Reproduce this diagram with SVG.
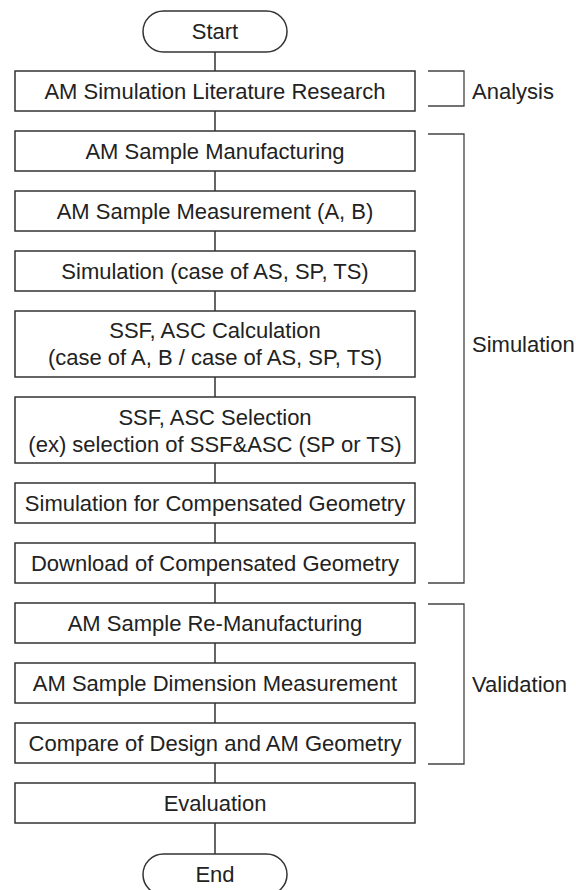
<svg xmlns="http://www.w3.org/2000/svg" width="576" height="890" viewBox="0 0 576 890">
<style>
.box{fill:#fff;stroke:#333;stroke-width:1.5}
.t{font-family:"Liberation Sans",Arial,sans-serif;font-size:22px;fill:#222;text-anchor:middle}
.l{font-family:"Liberation Sans",Arial,sans-serif;font-size:22px;fill:#222}
.c{stroke:#333;stroke-width:1.5;fill:none}
.br{stroke:#444;stroke-width:1.3;fill:none}
</style>
<rect width="576" height="890" fill="#fff"/>
<g id="connectors">
<line class="c" x1="215" y1="52" x2="215" y2="71"/>
<line class="c" x1="215" y1="111" x2="215" y2="131"/>
<line class="c" x1="215" y1="171" x2="215" y2="191"/>
<line class="c" x1="215" y1="231" x2="215" y2="251"/>
<line class="c" x1="215" y1="291" x2="215" y2="311"/>
<line class="c" x1="215" y1="377" x2="215" y2="397"/>
<line class="c" x1="215" y1="463" x2="215" y2="483"/>
<line class="c" x1="215" y1="523" x2="215" y2="543"/>
<line class="c" x1="215" y1="583" x2="215" y2="603"/>
<line class="c" x1="215" y1="643" x2="215" y2="663"/>
<line class="c" x1="215" y1="703" x2="215" y2="723"/>
<line class="c" x1="215" y1="763" x2="215" y2="783"/>
<line class="c" x1="215" y1="823" x2="215" y2="854"/>
</g>
<g id="start"><rect class="box" x="143" y="11" width="144" height="41" rx="20.5"/><text class="t" x="215" y="39">Start</text></g>
<g id="n1"><rect class="box" x="15" y="71" width="400" height="40"/><text class="t" x="215" y="99">AM Simulation Literature Research</text></g>
<g id="n2"><rect class="box" x="15" y="131" width="400" height="40"/><text class="t" x="215" y="159">AM Sample Manufacturing</text></g>
<g id="n3"><rect class="box" x="15" y="191" width="400" height="40"/><text class="t" x="215" y="219">AM Sample Measurement (A, B)</text></g>
<g id="n4"><rect class="box" x="15" y="251" width="400" height="40"/><text class="t" x="215" y="279">Simulation (case of AS, SP, TS)</text></g>
<g id="n5"><rect class="box" x="15" y="311" width="400" height="66"/><text class="t" x="215" y="338">SSF, ASC Calculation</text><text class="t" x="215" y="365">(case of A, B / case of AS, SP, TS)</text></g>
<g id="n6"><rect class="box" x="15" y="397" width="400" height="66"/><text class="t" x="215" y="425">SSF, ASC Selection</text><text class="t" x="215" y="452">(ex) selection of SSF&amp;ASC (SP or TS)</text></g>
<g id="n7"><rect class="box" x="15" y="483" width="400" height="40"/><text class="t" x="215" y="511">Simulation for Compensated Geometry</text></g>
<g id="n8"><rect class="box" x="15" y="543" width="400" height="40"/><text class="t" x="215" y="571">Download of Compensated Geometry</text></g>
<g id="n9"><rect class="box" x="15" y="603" width="400" height="40"/><text class="t" x="215" y="631">AM Sample Re-Manufacturing</text></g>
<g id="n10"><rect class="box" x="15" y="663" width="400" height="40"/><text class="t" x="215" y="691">AM Sample Dimension Measurement</text></g>
<g id="n11"><rect class="box" x="15" y="723" width="400" height="40"/><text class="t" x="215" y="751">Compare of Design and AM Geometry</text></g>
<g id="n12"><rect class="box" x="15" y="783" width="400" height="40"/><text class="t" x="215" y="811">Evaluation</text></g>
<g id="end"><rect class="box" x="143" y="854" width="144" height="41" rx="20.5"/><text class="t" x="215" y="882">End</text></g>
<g id="analysis"><path class="br" d="M428 71H464V106H428"/><text class="l" x="472" y="99">Analysis</text></g>
<g id="simulation"><path class="br" d="M428 134H464V583H428"/><text class="l" x="472" y="352">Simulation</text></g>
<g id="validation"><path class="br" d="M428 604H464V764H428"/><text class="l" x="472" y="692">Validation</text></g>
</svg>
